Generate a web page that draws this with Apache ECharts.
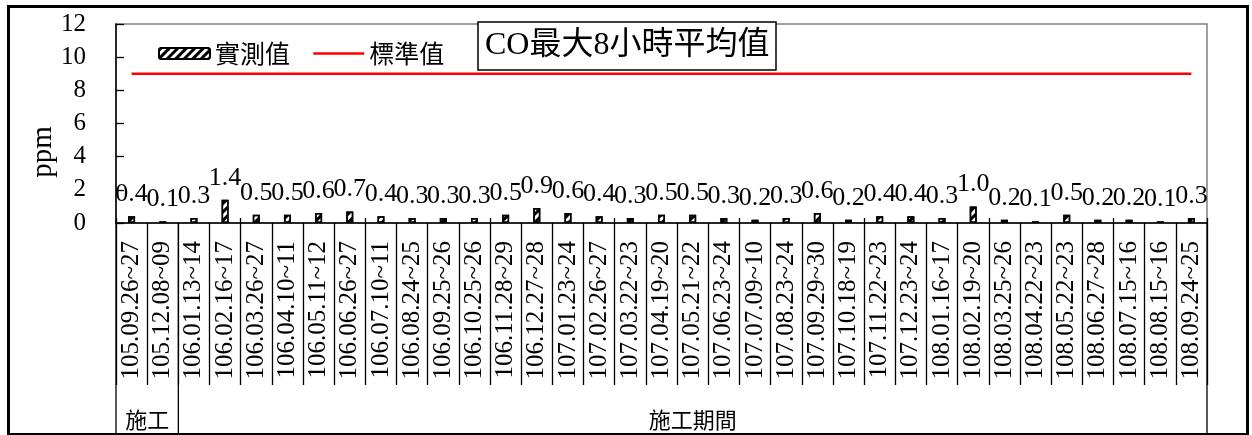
<!DOCTYPE html>
<html>
<head>
<meta charset="utf-8">
<script src="https://cdn.jsdelivr.net/npm/echarts@6/dist/echarts.min.js"></script>
<style>
  html, body { margin: 0; padding: 0; background: #fff; }
  #chart { width: 1252px; height: 435px; }
</style>
</head>
<body>
<div id="chart"></div>
<script>
// ---- data ----
const categories = [
  '105.09.26~27', '105.12.08~09',
  '106.01.13~14', '106.02.16~17', '106.03.26~27', '106.04.10~11', '106.05.11~12', '106.06.26~27',
  '106.07.10~11', '106.08.24~25', '106.09.25~26', '106.10.25~26', '106.11.28~29', '106.12.27~28',
  '107.01.23~24', '107.02.26~27', '107.03.22~23', '107.04.19~20', '107.05.21~22', '107.06.23~24',
  '107.07.09~10', '107.08.23~24', '107.09.29~30', '107.10.18~19', '107.11.22~23', '107.12.23~24',
  '108.01.16~17', '108.02.19~20', '108.03.25~26', '108.04.22~23', '108.05.22~23', '108.06.27~28',
  '108.07.15~16', '108.08.15~16', '108.09.24~25'
];
const measured = [
  0.4, 0.1, 0.3, 1.4, 0.5, 0.5, 0.6, 0.7, 0.4, 0.3, 0.3, 0.3, 0.5, 0.9,
  0.6, 0.4, 0.3, 0.5, 0.5, 0.3, 0.2, 0.3, 0.6, 0.2, 0.4, 0.4,
  0.3, 1.0, 0.2, 0.1, 0.5, 0.2, 0.2, 0.1, 0.3
];
const standard = [
  9, 9, 9, 9, 9, 9, 9, 9, 9, 9, 9, 9, 9, 9, 9, 9, 9, 9,
  9, 9, 9, 9, 9, 9, 9, 9, 9, 9, 9, 9, 9, 9, 9, 9, 9
];
const groupNames = ['施工', '施工期間'];
const groupCounts = [2, 33];
const yTicks = { min: 0, max: 12, interval: 2 };
const seriesNames = ['實測值', '標準值'];
const titleText = 'CO最大8小時平均值';
const yName = 'ppm';

const SERIF = "'Liberation Serif', 'Noto Sans CJK TC', serif";
const CJK = "'Noto Sans CJK TC', 'Liberation Serif', sans-serif";

const chart = echarts.init(document.getElementById('chart'), null, { renderer: 'canvas' });

const option = {
  animation: false,
  backgroundColor: '#fff',
  title: {
    text: titleText,
    left: 478, top: 22,
    padding: [8, 7, 8, 7],
    borderColor: '#000', borderWidth: 1.5,
    backgroundColor: '#fff',
    textStyle: { fontFamily: SERIF, fontSize: 32, fontWeight: 'normal', color: '#000' }
  },
  legend: {
    left: 153, top: 36,
    itemWidth: 51, itemHeight: 11, itemGap: 22,
    data: [
      { name: seriesNames[0] },
      { name: seriesNames[1], itemStyle: { opacity: 0 }, lineStyle: { color: '#ff0000', width: 2.5 } }
    ],
    textStyle: { fontFamily: CJK, fontSize: 25, color: '#000' }
  },
  grid: {
    left: 116, right: 45, top: 24, bottom: 212,
    show: true, borderColor: '#808080', borderWidth: 1.5, backgroundColor: '#fff'
  },
  xAxis: [
    {
      type: 'category', data: categories, position: 'bottom', boundaryGap: true,
      axisLine: { show: true, lineStyle: { color: '#000', width: 1.5 } },
      axisTick: { show: true, length: 162, lineStyle: { color: '#000', width: 1.3 } },
      axisLabel: { rotate: 90, interval: 0, margin: 18, fontFamily: SERIF, fontSize: 25, color: '#000' }
    },
    {
      type: 'category', data: categories, position: 'bottom', boundaryGap: true,
      axisLine: { show: false },
      axisTick: { show: true, inside: true, length: 5, lineStyle: { color: '#000', width: 1.3 } },
      axisLabel: { show: false }
    }
  ],
  yAxis: {
    type: 'value', min: yTicks.min, max: yTicks.max, interval: yTicks.interval,
    axisLine: { show: true, lineStyle: { color: '#000', width: 1.5 } },
    axisTick: { show: true, inside: true, length: 8, lineStyle: { color: '#000', width: 1.3 } },
    axisLabel: { margin: 30, fontFamily: SERIF, fontSize: 25, color: '#000' },
    splitLine: { show: false }
  },
  series: [
    {
      name: seriesNames[0], type: 'bar', xAxisIndex: 0, data: measured, barWidth: 7,
      itemStyle: {
        color: '#fff', borderColor: '#000', borderWidth: 1.5,
        decal: { symbol: 'rect', symbolSize: 1, color: '#000', dashArrayX: [1, 0], dashArrayY: [3, 3], rotation: -Math.PI / 4 }
      },
      label: {
        show: true, position: 'top', distance: 9,
        fontFamily: SERIF, fontSize: 26, color: '#000',
        formatter: p => p.value.toFixed(1)
      },
      z: 3
    },
    {
      name: seriesNames[1], type: 'line', xAxisIndex: 0, data: standard,
      symbol: 'none', symbolSize: 0, showSymbol: false,
      lineStyle: { color: '#ff0000', width: 2.5 }, itemStyle: { color: '#ff0000' },
      z: 2
    }
  ]
};
chart.setOption(option);

function decorate() {
  const px = i => chart.convertToPixel({ xAxisIndex: 0 }, categories[i]);
  const y0 = chart.convertToPixel({ yAxisIndex: 0 }, 0);
  const half = (px(1) - px(0)) / 2;
  const bottomY = 435;
  const elements = [];
  let start = 0;
  const bounds = [px(0) - half];
  groupCounts.forEach((cnt, g) => {
    const end = start + cnt - 1;
    bounds.push(px(end) + half);
    const cx = (px(start) + px(end)) / 2;
    elements.push({
      type: 'text', x: cx, y: 420, z: 10,
      style: { text: groupNames[g], font: "22px 'Noto Sans CJK TC'", fill: '#000', align: 'center', verticalAlign: 'middle' }
    });
    start = end + 1;
  });
  bounds.forEach(b => {
    elements.push({
      type: 'line', z: 10,
      shape: { x1: b, y1: y0, x2: b, y2: bottomY },
      style: { stroke: '#000', lineWidth: 1.3 }
    });
  });
  elements.push({
    type: 'text', x: 43, y: 152, rotation: Math.PI / 2, z: 10,
    style: { text: yName, font: "29px 'Liberation Serif'", fill: '#000', align: 'center', verticalAlign: 'middle' }
  });
  elements.push({
    type: 'rect', z: 20,
    shape: { x: 8.5, y: 6.5, width: 1239, height: 428 },
    style: { fill: 'none', stroke: '#000', lineWidth: 3 }
  });
  chart.setOption({ graphic: { elements } });
}
decorate();
</script>
</body>
</html>
